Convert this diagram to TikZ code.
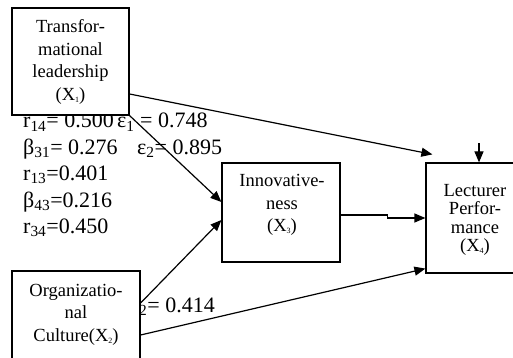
\documentclass[tikz,border=0pt]{standalone}
\usepackage{fontspec}
\setmainfont{Liberation Serif}
\usetikzlibrary{arrows.meta}
\newcommand\boxsub[1]{\raisebox{-2pt}{\fontsize{8}{8}\selectfont #1}}
\tikzset{
  lbl/.style={anchor=base west, inner sep=0pt, font=\fontsize{22}{26}\selectfont},
  vbox/.style={draw, line width=1.2pt, fill=white, inner sep=0pt},
  btxt/.style={align=center, inner sep=0pt, font=\fontsize{18.5}{22.5}\selectfont},
  arr/.style={line width=1.2pt, -{Triangle[length=11pt,width=9pt]}}
}
\begin{document}
\begin{tikzpicture}[x=1pt,y=-1pt]
\useasboundingbox (0,0) rectangle (513,358);
% labels
\node[lbl] (l1) at (23,128) {r\textsubscript{14}= 0.500};
\node[lbl] (l2) at (117,128) {ε\textsubscript{1} = 0.748};
\node[lbl] (l3) at (23,154) {β\textsubscript{31}= 0.276};
\node[lbl] (l4) at (137,154) {ε\textsubscript{2}= 0.895};
\node[lbl] (l5) at (23,180) {r\textsubscript{13}=0.401};
\node[lbl] (l6) at (23,207) {β\textsubscript{43}=0.216};
\node[lbl] (l7) at (23,233) {r\textsubscript{34}=0.450};
\node[lbl] (l8) at (139,312) {\textsubscript{2}= 0.414};
% boxes
\node[vbox, minimum width=117, minimum height=107] (x1) at (70.5,61.5) {};
\node[vbox, minimum width=128, minimum height=95] (x2) at (76,318.5) {};
\node[vbox, minimum width=118, minimum height=99] (x3) at (281,212.5) {};
\node[vbox, minimum width=94, minimum height=110] (x4) at (473,218) {};
% box texts
\node[btxt] (t1) at (70.5,62) {Transfor-\\mational\\leadership\\(X\boxsub{1})};
\node[btxt] (t2) at (76,314.5) {Organizatio-\\nal\\Culture(X\boxsub{2})};
\node[btxt] (t3) at (282,205) {Innovative-\\ness\\(X\boxsub{3})};
\node[btxt, font=\fontsize{18.5}{18.5}\selectfont] (t4) at (475,220) {Lecturer\\Perfor-\\mance\\(X\boxsub{4})};
% connectors
\coordinate (e1) at ([xshift=7pt,yshift=8pt]x4.north west);
\coordinate (e0) at ([xshift=6pt,yshift=19pt]x4.north);
\draw[arr] ([yshift=-32.5pt]x1.east) -- (e1);
\draw[arr] (e0) -- ([xshift=6pt]x4.north);
\draw[arr] ([yshift=-2.5pt]x3.east) -- ++(47,0) -- ++(0,3) -- (x4.west);
\draw[arr] (x1.south east) -- ([yshift=10.5pt]x3.west);
\draw[arr] ([yshift=15.5pt]x2.east) -- ([yshift=-7.5pt]x3.west);
\draw[arr] ([yshift=-16.5pt]x2.east) -- ([yshift=5pt]x4.south west);
\end{tikzpicture}
\end{document}
